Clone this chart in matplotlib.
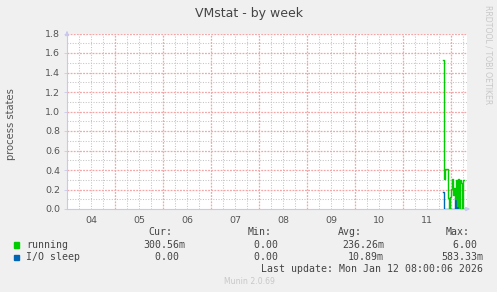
import matplotlib
matplotlib.use("Agg")
import matplotlib.pyplot as plt
import numpy as np
import pandas as pd

# ---- data ----
title = "VMstat - by week"
ylabel = "process states"
x_start = "2026-01-04 00:00"
x_end = "2026-01-12 08:00"
day_labels = ["04", "05", "06", "07", "08", "09", "10", "11"]
data_start = "2026-01-11 20:00"
running = [1.53, 0.31, 0.41, 0.41, 0.41, 0.11, 0.00, 0.12, 0.21, 0.31, 0.14,
           0.22, 0.10, 0.30, 0.03, 0.31, 0.00, 0.30, 0.27, 0.00, 0.30, 0.30]
io_sleep = [0.17, 0.00, 0.00, 0.00, 0.00, 0.00, 0.00, 0.00, 0.00, 0.00, 0.00,
            0.00, 0.11, 0.00, 0.09, 0.00, 0.00, 0.00, 0.00, 0.00, 0.00, 0.00]
series_names = ["running", "I/O sleep"]
series_colors = ["#00cc00", "#0066b3"]
cur = ["300.56m", "0.00 "]
mins = ["0.00 ", "0.00 "]
avgs = ["236.26m", "10.89m"]
maxs = ["6.00 ", "583.33m"]
last_update = "Last update: Mon Jan 12 08:00:06 2026"
version = "Munin 2.0.69"
ymax = 1.8

W, H = 497, 292
fig = plt.figure(figsize=(W / 100, H / 100), dpi=100, facecolor="#f0f0f0")
L, R, T, B = 67, 467, 33.5, 209
ax = fig.add_axes([L / W, 1 - B / H, (R - L) / W, (B - T) / H])
ax.set_facecolor("white")

t0 = pd.Timestamp(x_start)
t1 = pd.Timestamp(x_end)
ax.set_xlim(t0, t1)
ax.set_ylim(0, ymax)

# grid
minor_x = pd.date_range(t0, t1, freq="6h")
major_x = pd.date_range(t0 + pd.Timedelta("1D"), t1, freq="1D")
gray = "#c4c4c4"
red = "#f4a6a6"
gdots = (0, (1, 1.5))
rdots = (0, (1.5, 1))
for t in minor_x:
    if t not in major_x:
        ax.axvline(t, color=gray, lw=0.75, ls=gdots, zorder=1, snap=True)
for v in np.arange(0.1, ymax + 0.01, 0.2):
    ax.axhline(v, color=gray, lw=0.75, ls=gdots, zorder=1, snap=True)
for t in major_x:
    ax.axvline(t, color=red, lw=0.9, ls=rdots, zorder=2, snap=True)
for v in np.arange(0.2, ymax + 0.01, 0.2):
    ax.axhline(v, color=red, lw=0.9, ls=rdots, zorder=2, snap=True)

# data
times = pd.date_range(data_start, periods=len(running), freq="30min")
ax.plot(times, io_sleep, color=series_colors[1], lw=1.0, drawstyle="steps-post", zorder=4)
ax.plot(times, running, color=series_colors[0], lw=1.0, drawstyle="steps-post", zorder=5)

# spines / axes
for s in ["top", "right"]:
    ax.spines[s].set_visible(False)
for s in ["left", "bottom"]:
    ax.spines[s].set_color("#c8c8f0")
    ax.spines[s].set_linewidth(0.8)
ax.annotate("", xy=(1.015, 0), xytext=(0.99, 0), xycoords="axes fraction",
            arrowprops=dict(arrowstyle="-|>", color="#c8c8f0", lw=0.8, mutation_scale=6),
            annotation_clip=False)
ax.annotate("", xy=(0, 1.03), xytext=(0, 0.99), xycoords="axes fraction",
            arrowprops=dict(arrowstyle="-|>", color="#c8c8f0", lw=0.8, mutation_scale=6),
            annotation_clip=False)

noon = pd.date_range(t0 + pd.Timedelta("12h"), periods=len(day_labels), freq="1D")
ax.set_xticks(noon)
ax.set_xticklabels(day_labels)
ax.tick_params(axis="x", length=0, pad=5, labelsize=6.8, labelcolor="#555555")
yt = np.round(np.arange(0, ymax + 0.01, 0.2), 1)
ax.set_yticks(yt)
ax.set_yticklabels([f"{v:.1f}" for v in yt])
ax.tick_params(axis="y", length=2, width=0.6, color="#c8c8f0", pad=3,
               labelsize=6.8, labelcolor="#555555")

# texts
def fx(px):
    return px / W
def fy(py):
    return 1 - py / H

fig.text(fx(249), fy(13), title, ha="center", va="center", fontsize=9, color="#444444")
fig.text(fx(11), fy(124), ylabel, ha="center", va="center", rotation=90,
         fontsize=7.2, color="#555555")
fig.text(fx(488), fy(55), "RRDTOOL / TOBI OETIKER", ha="center", va="center",
         rotation=270, fontsize=5.6, color="#c8c8c8")

mono = dict(family="DejaVu Sans Mono", fontsize=7.1, color="#444444", va="center")
hdr_r = [172.7, 271.7, 361.7, 470]
val_r = [185, 284.3, 384, 483]
for xr, h in zip(hdr_r, ["Cur:", "Min:", "Avg:", "Max:"]):
    fig.text(fx(xr), fy(232.3), h, ha="right", **mono)
rows_y = [245, 257.3]
for i in range(2):
    y = rows_y[i]
    fig.patches.append(plt.Rectangle((fx(14), fy(y) - 2.6 / H), 5.3 / W, 5.3 / H,
                                     transform=fig.transFigure, color=series_colors[i]))
    fig.text(fx(26.5), fy(y), series_names[i], ha="left", **mono)
    for xr, v in zip(val_r, [cur[i], mins[i], avgs[i], maxs[i]]):
        fig.text(fx(xr), fy(y), v, ha="right", **mono)
fig.text(fx(483), fy(268.7), last_update, ha="right", **mono)
fig.text(fx(249), fy(281), version, ha="center", va="center", fontsize=5.6, color="#c8c8c8")

fig.savefig("out.png", dpi=100, facecolor=fig.get_facecolor())
